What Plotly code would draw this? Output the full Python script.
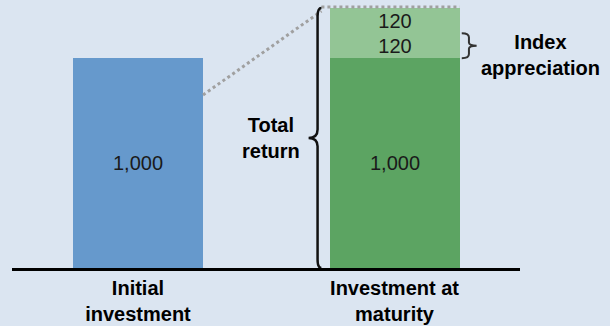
import plotly.graph_objects as go

categories = ["<b>Initial<br>investment</b>", "<b>Investment at<br>maturity</b>"]
principal = [1000, 1000]
appreciation_1 = [None, 120]
appreciation_2 = [None, 120]
value_labels = ["1,000", "1,000"]
appr_labels = ["120", "120"]

BG = "#DBE5F1"
BLUE = "#6699CC"
DKGREEN = "#5CA462"
LTGREEN = "#93C595"

xpos = [0, 1]
bw = 0.507
XR = [-0.491, 1.489]

fig = go.Figure()
fig.add_trace(go.Bar(x=xpos, y=principal, width=bw,
                     marker=dict(color=[BLUE, DKGREEN], line=dict(width=0)),
                     text=value_labels, textposition="inside", insidetextanchor="middle",
                     textfont=dict(color="#1a1a1a", size=20, family="Arial")))
fig.add_trace(go.Bar(x=xpos, y=appreciation_1, width=bw,
                     marker=dict(color=LTGREEN, line=dict(width=0)),
                     text=[None, appr_labels[0]], textposition="inside", insidetextanchor="middle",
                     textfont=dict(color="#1a1a1a", size=20, family="Arial")))
fig.add_trace(go.Bar(x=xpos, y=appreciation_2, width=bw,
                     marker=dict(color=LTGREEN, line=dict(width=0)),
                     text=[None, appr_labels[1]], textposition="inside", insidetextanchor="middle",
                     textfont=dict(color="#1a1a1a", size=20, family="Arial")))

total = principal[1] + appreciation_1[1] + appreciation_2[1]
base = principal[1]
a1 = base + appreciation_1[1]

shapes = []
# dotted connector lines
shapes.append(dict(type="line", xref="x", yref="y", x0=xpos[0] + bw / 2, y0=825, x1=0.715, y1=total - 15,
                   line=dict(color="#A0A0A0", width=3, dash="dot")))
shapes.append(dict(type="line", xref="x", yref="y", x0=0.715, y0=total + 5, x1=xpos[1] + bw / 2, y1=total + 5,
                   line=dict(color="#A0A0A0", width=3, dash="dot")))
# total return brace
bx = 0.70
mid = total / 2
path = (f"M {bx+0.015},0 Q {bx},0 {bx},40 L {bx},{mid-40} Q {bx},{mid} {bx-0.035},{mid} "
        f"Q {bx},{mid} {bx},{mid+40} L {bx},{total-40} Q {bx},{total} {bx+0.015},{total}")
shapes.append(dict(type="path", xref="x", yref="y", path=path, line=dict(color="#111111", width=2.5)))
# index appreciation brace
sx = 1.262
sx2 = 1.29
m2 = (base + a1) / 2
path2 = (f"M {sx},{a1} Q {sx2},{a1} {sx2},{a1-20} L {sx2},{m2+15} Q {sx2},{m2} {sx2+0.03},{m2} "
         f"Q {sx2},{m2} {sx2},{m2-15} L {sx2},{base+20} Q {sx2},{base} {sx},{base}")
shapes.append(dict(type="path", xref="x", yref="y", path=path2, line=dict(color="#333333", width=2)))

def xpaper(v):
    return (v - XR[0]) / (XR[1] - XR[0])

annotations = [
    dict(x=0.52, y=mid, xref="x", yref="y", text="<b>Total<br>return</b>", showarrow=False,
         font=dict(size=20, color="black", family="Arial"), align="center"),
    dict(x=xpaper(1.57), y=base + 15, xref="paper", yref="y", xanchor="center", yanchor="middle",
         text="<b>Index<br>appreciation</b>", showarrow=False,
         font=dict(size=20, color="black", family="Arial"), align="center"),
]

fig.update_layout(
    width=610, height=326,
    margin=dict(l=12, r=90, t=0, b=58),
    paper_bgcolor=BG, plot_bgcolor=BG,
    barmode="stack", showlegend=False, bargap=0,
    uniformtext=dict(minsize=19, mode="show"),
    xaxis=dict(range=XR, tickvals=xpos, ticktext=categories,
               showgrid=False, zeroline=False, showline=True, linecolor="black", linewidth=2.5,
               ticks="", tickfont=dict(size=20, color="black", family="Arial"), fixedrange=True),
    yaxis=dict(range=[0, 1278], visible=False, showgrid=False, zeroline=False, fixedrange=True),
    shapes=shapes, annotations=annotations,
)

fig.write_html("out.html")
